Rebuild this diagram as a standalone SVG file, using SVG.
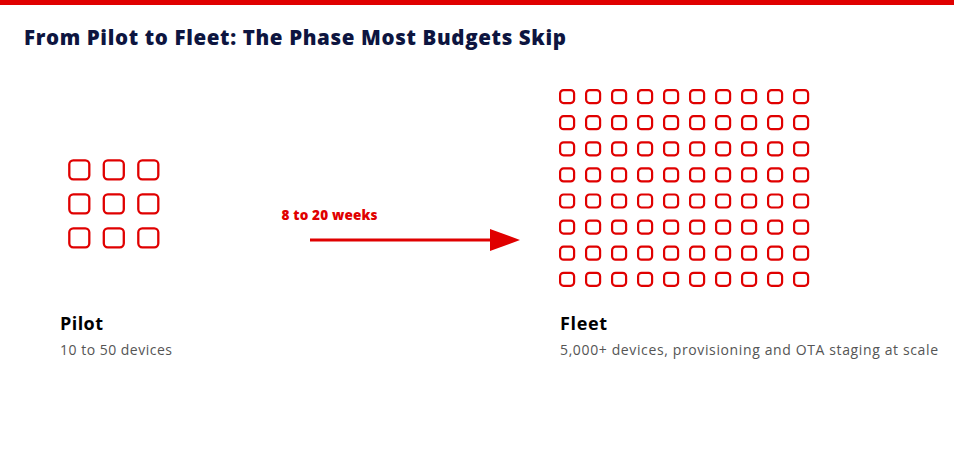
<svg xmlns="http://www.w3.org/2000/svg" xmlns:xlink="http://www.w3.org/1999/xlink" width="954" height="463" viewBox="0 0 954 463">
<style>
.title{font-family:"Open Sans","Liberation Sans",sans-serif;font-weight:800;font-size:20.5px;fill:#0d1540}
.head{font-family:"Open Sans","Liberation Sans",sans-serif;font-weight:700;font-size:18px;fill:#000}
.sub{font-family:"Open Sans","Liberation Sans",sans-serif;font-size:14px;fill:#555}
.lbl{font-family:"Open Sans","Liberation Sans",sans-serif;font-weight:800;font-size:13.5px;fill:#e00000}
.big{fill:none;stroke:#e00000;stroke-width:2.3}
.sm{fill:none;stroke:#e00000;stroke-width:2.2}
</style>
<defs>
<rect id="b" class="big" x="0" y="0" width="20" height="19" rx="4"/>
<rect id="s" class="sm" x="0" y="0" width="14" height="13" rx="3.5"/>
<g id="srow">
<use href="#s" x="0"/><use href="#s" x="26"/><use href="#s" x="52"/><use href="#s" x="78"/><use href="#s" x="104"/><use href="#s" x="130"/><use href="#s" x="156"/><use href="#s" x="182"/><use href="#s" x="208"/><use href="#s" x="234"/>
</g>
<marker id="ah" markerWidth="30" markerHeight="22" refX="0" refY="11" orient="auto" markerUnits="userSpaceOnUse">
<path d="M0,0 L30,11 L0,22 Z" fill="#e00000"/>
</marker>
</defs>
<rect x="0" y="0" width="954" height="463" fill="#fff"/>
<rect x="0" y="0" width="954" height="5" fill="#e00000"/>
<text class="title" x="24" y="45" textLength="542">From Pilot to Fleet: The Phase Most Budgets Skip</text>
<g id="pilot">
<g transform="translate(69.3,160.3)">
<use href="#b" x="0" y="0"/><use href="#b" x="34.5" y="0"/><use href="#b" x="69" y="0"/>
<use href="#b" x="0" y="34"/><use href="#b" x="34.5" y="34"/><use href="#b" x="69" y="34"/>
<use href="#b" x="0" y="68"/><use href="#b" x="34.5" y="68"/><use href="#b" x="69" y="68"/>
</g>
<text class="head" x="60" y="330" textLength="43">Pilot</text>
<text class="sub" x="60" y="355" textLength="112">10 to 50 devices</text>
</g>
<g id="fleet">
<g transform="translate(560.1,90.1)">
<use href="#srow" y="0"/><use href="#srow" y="26.1"/><use href="#srow" y="52.2"/><use href="#srow" y="78.3"/><use href="#srow" y="104.4"/><use href="#srow" y="130.5"/><use href="#srow" y="156.6"/><use href="#srow" y="182.7"/>
</g>
<text class="head" x="560" y="330" textLength="47">Fleet</text>
<text class="sub" x="560" y="355" textLength="378">5,000+ devices, provisioning and OTA staging at scale</text>
</g>
<g id="connectors">
<line x1="310" y1="240" x2="490" y2="240" stroke="#e00000" stroke-width="3" marker-end="url(#ah)"/>
<text class="lbl" x="281.5" y="219.5" textLength="96">8 to 20 weeks</text>
</g>
</svg>
